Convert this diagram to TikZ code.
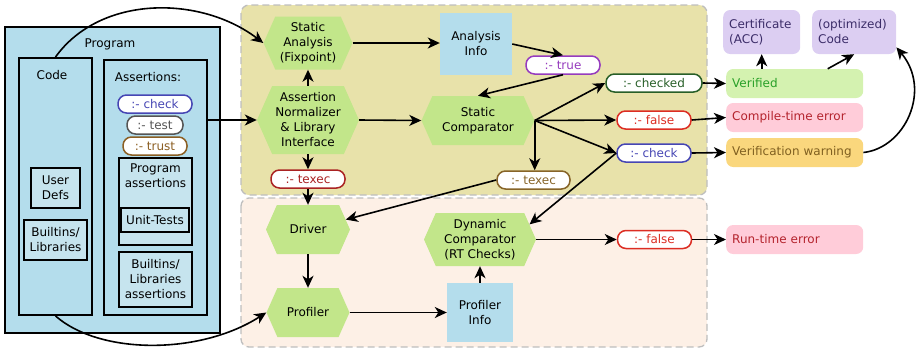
\documentclass[tikz,border=0pt]{standalone}
\usepackage{fontspec}
\setmainfont{DejaVu Sans}
\usetikzlibrary{calc,arrows.meta,positioning,shapes.symbols}

\definecolor{progblue}{RGB}{180,221,236}
\definecolor{subblue}{RGB}{198,228,238}
\definecolor{hexgreen}{RGB}{194,230,138}
\definecolor{statbg}{RGB}{232,226,170}
\definecolor{dynbg}{RGB}{253,240,230}
\definecolor{regiongray}{RGB}{190,190,190}
\definecolor{chkblue}{RGB}{70,70,180}
\definecolor{testgray}{RGB}{85,85,85}
\definecolor{trustbrown}{RGB}{140,95,35}
\definecolor{texecred}{RGB}{170,35,35}
\definecolor{texecbrown}{RGB}{135,100,40}
\definecolor{truepurple}{RGB}{150,60,190}
\definecolor{chkgreen}{RGB}{40,95,40}
\definecolor{falsered}{RGB}{220,45,35}
\definecolor{certfill}{RGB}{220,206,242}
\definecolor{certtext}{RGB}{60,45,105}
\definecolor{verfill}{RGB}{212,242,176}
\definecolor{vertext}{RGB}{40,160,40}
\definecolor{errfill}{RGB}{255,204,217}
\definecolor{errtext}{RGB}{180,35,45}
\definecolor{warnfill}{RGB}{250,215,125}
\definecolor{warntext}{RGB}{128,96,32}

\tikzset{
  hexnode/.style={signal, signal to=west and east, signal pointer angle=132, fill=hexgreen, align=center, inner sep=1pt},
  infobox/.style={fill=progblue, align=center, inner sep=2pt},
  pill/.style={draw=#1, text=#1, fill=white, line width=1.5pt, rounded corners=8.5pt, minimum height=18pt, minimum width=74pt, inner sep=0pt},
  resbox/.style 2 args={fill=#1, text=#2, rounded corners=7pt, align=left, anchor=west, inner sep=6pt},
  progbox/.style={draw, line width=1.9pt, fill=progblue},
  subbox/.style={draw, line width=1.6pt, fill=subblue, align=center, inner sep=1pt},
  region/.style={draw=regiongray, dash pattern=on 7pt off 4pt, line width=1.3pt, rounded corners=8pt},
  arr/.style={-{Stealth[length=12pt,width=11pt,inset=3.5pt]}, line width=1.6pt},
}

\begin{document}
\begin{tikzpicture}[x=1pt, y=-1pt, font=\fontsize{12}{15}\selectfont]
\useasboundingbox (0,0) rectangle (916,349);

\draw[region, fill=statbg] (241,5) rectangle (707,195);
\draw[region, fill=dynbg] (241,198) rectangle (707,347);

% program and assertions
\node[progbox, minimum width=215pt, minimum height=306pt] (prog) at (112.5,180) {};
\node (progt) at (110,44) {Program};
\node[progbox, minimum width=73pt, minimum height=257pt] (code) at (55.5,186.5) {};
\node (codet) at (52,75) {Code};
\node[progbox, minimum width=103pt, minimum height=255pt] (asrt) at (155.5,187.5) {};
\node (asrtt) at (148,77) {Assertions:};
\node[pill=chkblue] (pcheck) at (155,104) {:- check};
\node[pill=testgray, minimum width=56pt] (ptest) at (155,125) {:- test};
\node[pill=trustbrown, minimum width=64pt] (ptrust) at (155,146) {:- trust};
\node[subbox, minimum width=73pt, minimum height=87pt,
  label={[align=center, anchor=north, yshift=-3pt]north:Program\\assertions}] (pasrt) at (155.5,201.5) {};
\node[subbox, line width=2pt, minimum width=68pt, minimum height=24pt] (utest) at (155,220) {Unit-Tests};
\node[subbox, minimum width=73pt, minimum height=55pt] (basrt) at (155.5,279.5) {Builtins/\\Libraries\\assertions};
\node[subbox, minimum width=49pt, minimum height=40pt] (udefs) at (55.5,188) {User\\Defs};
\node[subbox, minimum width=63pt, minimum height=40pt] (blib) at (55.5,240) {Builtins/\\Libraries};

% static part
\node[hexnode, minimum width=89pt, minimum height=53pt] (sa) at (308,43) {Static\\Analysis\\(Fixpoint)};
\node[infobox, minimum width=72pt, minimum height=62pt] (ai) at (476,44) {Analysis\\Info};
\node[hexnode, minimum width=102pt, minimum height=68pt] (an) at (308,120) {Assertion\\Normalizer\\\& Library\\Interface};
\node[hexnode, minimum width=113pt, minimum height=49pt] (sc) at (478,120.5) {Static\\Comparator};
\node[pill=texecred] (texa) at (308,179) {:- texec};
\node[pill=truepurple] (ptrue) at (563,65) {:- true};
\node[pill=chkgreen, minimum width=96pt] (pchecked) at (654,83) {:- checked};
\node[pill=falsered] (pfalse) at (654,120) {:- false};
\node[pill=chkblue] (pcheckb) at (654,153) {:- check};
\node[pill=texecbrown, minimum width=73pt] (texb) at (533.5,180) {:- texec};

% results
\node[resbox={certfill}{certtext}, text width=65pt, minimum height=44pt] (cert) at (723,32) {Certificate\\(ACC)};
\node[resbox={certfill}{certtext}, text width=72pt, minimum height=44pt] (optc) at (812,32) {(optimized)\\Code};
\node[resbox={verfill}{vertext}, text width=125pt, minimum height=29pt] (ver) at (726,83.5) {Verified};
\node[resbox={errfill}{errtext}, text width=125pt, minimum height=29pt] (cte) at (726,117.5) {Compile-time error};
\node[resbox={warnfill}{warntext}, text width=125pt, minimum height=29pt] (warn) at (726,152.5) {Verification warning};
\node[resbox={errfill}{errtext}, text width=125pt, minimum height=29pt] (rte) at (726,239.5) {Run-time error};

% dynamic part
\node[hexnode, minimum width=84pt, minimum height=49pt] (drv) at (308,229.5) {Driver};
\node[hexnode, minimum width=83pt, minimum height=49pt] (prof) at (308,312.5) {Profiler};
\node[hexnode, minimum width=112pt, minimum height=53pt] (dc) at (480,239.5) {Dynamic\\Comparator\\(RT Checks)};
\node[infobox, minimum width=66pt, minimum height=59pt] (pinfo) at (480,312.5) {Profiler\\Info};
\node[pill=falsered] (pfalseb) at (654.5,239.5) {:- false};

\draw[arr] (sa.east) -- (sa.east -| ai.west);
\draw[arr] (ai.east) -- (ptrue.north);
\draw[arr] (ptrue.south) -- (sc.north);
\draw[arr] (an.north) -- (sa.south);
\draw[arr] (an.east) -- (sc.west);
\draw[arr] (an.south) -- (texa.north);
\draw[arr] (texa.south) -- (drv.north);
\draw[arr] (sc.east) -- (pchecked.west);
\draw[arr] (sc.east) -- (pfalse.west);
\draw[arr] (sc.east) -- (pcheckb.west);
\draw[arr] (sc.east) -- (sc.east |- texb.north);
\draw[arr] (texb.west) -- (drv);
\draw[arr] (pcheckb.west) -- (dc.17);
\draw[arr] (pchecked.east) -- (ver.west);
\draw[arr] (pfalse.east) -- (cte.west);
\draw[arr] (pcheckb.east) -- (warn.west);
\draw[arr] (cert.south |- ver.north) -- (cert.south);
\draw[arr] ($(ver.north)+(33,0)$) -- (optc.south);
\draw[arr] (warn.east) .. controls (905,148) and (932,90) .. (optc.-20);

\draw[arr] (drv.south) -- (prof.north);
\draw[arr] (prof.east) -- (pinfo.west);
\draw[arr] (pinfo.north) -- (dc.south);
\draw[arr] (dc.east) -- (pfalseb.west);
\draw[arr] (pfalseb.east) -- (rte.west);

\draw[arr] (asrt.east |- an.west) -- (an.west);
\draw[arr] (code.north) .. controls (100,-5) and (200,-5) .. (sa.west);
\draw[arr] (code.south) .. controls (100,355) and (200,355) .. (prof.west);
\end{tikzpicture}
\end{document}
